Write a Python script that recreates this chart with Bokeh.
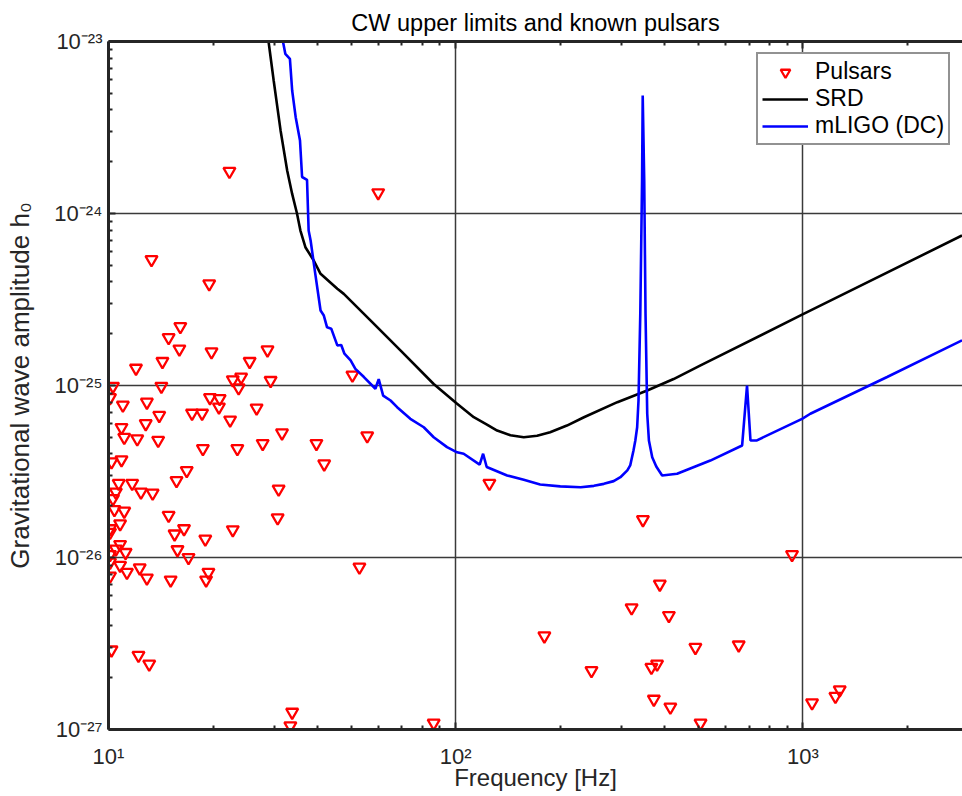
from bokeh.plotting import figure
from bokeh.models import (Range1d, LogAxis, FixedTicker, CustomJSTickFormatter,
                          Legend, LegendItem)
from bokeh.embed import file_html
from bokeh.resources import INLINE

# ---------------- data ----------------
pulsar_freq = [22.3, 59.8, 13.3, 19.5, 16.1, 14.9, 16.0, 19.8, 28.7, 25.5,
               14.3, 12.0, 50.4, 10.3, 14.2, 22.8, 24.1, 23.7, 29.3, 10.1,
               11.0, 12.9, 19.6, 20.9, 20.8, 26.7, 14.0, 17.4, 18.6, 22.4,
               10.9, 12.8, 11.1, 12.1, 13.9, 31.6, 55.6, 18.7, 23.5, 27.8,
               39.7, 10.2, 10.9, 41.8, 16.8, 15.7, 10.7, 11.7, 12.4, 13.4,
               30.9, 10.5, 10.3, 10.4, 11.1, 14.9, 30.7, 10.8, 10.1, 16.5,
               15.5, 22.8, 19.0, 10.1, 10.8, 10.5, 11.2, 10.1, 15.8, 17.0,
               10.1, 10.8, 12.3, 11.3, 12.9, 10.1, 15.1, 19.4, 19.1, 52.8,
               10.2, 12.2, 13.1, 33.8, 33.4, 86.4, 125, 346, 930, 387,
               321, 411, 180, 490, 653, 246, 366, 380, 372, 415,
               507, 1062, 1240, 1276]
pulsar_h0 = [1.76e-24, 1.32e-24, 5.4e-25, 3.9e-25, 2.2e-25, 1.9e-25, 1.63e-25, 1.57e-25, 1.61e-25, 1.38e-25,
             1.38e-25, 1.26e-25, 1.15e-25, 9.9e-26, 9.9e-26, 1.08e-25, 1.12e-25, 9.7e-26, 1.07e-25, 8.5e-26,
             7.7e-26, 8.0e-26, 8.5e-26, 8.4e-26, 7.5e-26, 7.4e-26, 6.7e-26, 6.9e-26, 6.9e-26, 6.3e-26,
             5.7e-26, 6.0e-26, 5.0e-26, 4.9e-26, 4.8e-26, 5.3e-26, 5.1e-26, 4.3e-26, 4.3e-26, 4.6e-26,
             4.6e-26, 3.6e-26, 3.7e-26, 3.5e-26, 3.2e-26, 2.8e-26, 2.7e-26, 2.7e-26, 2.4e-26, 2.37e-26,
             2.5e-26, 2.4e-26, 2.2e-26, 1.9e-26, 1.86e-26, 1.76e-26, 1.7e-26, 1.57e-26, 1.47e-26, 1.47e-26,
             1.37e-26, 1.45e-26, 1.28e-26, 1.40e-26, 1.19e-26, 1.12e-26, 1.07e-26, 1.04e-26, 1.11e-26, 1.0e-26,
             9.4e-27, 9.0e-27, 8.7e-27, 8.2e-27, 7.6e-27, 7.8e-27, 7.4e-27, 8.2e-27, 7.4e-27, 8.8e-27,
             2.9e-27, 2.7e-27, 2.4e-27, 1.26e-27, 1.05e-27, 1.09e-27, 2.7e-26, 1.66e-26, 1.04e-26, 7.0e-27,
             5.1e-27, 4.6e-27, 3.5e-27, 3.0e-27, 3.1e-27, 2.2e-27, 2.3e-27, 2.4e-27, 1.5e-27, 1.35e-27,
             1.09e-27, 1.43e-27, 1.56e-27, 1.70e-27]

srd_freq = [28.9, 29.9, 31.3, 32.7, 33.8, 34.9, 35.7, 36.9, 39.0, 40.8,
            45.6, 47.6, 56.8, 69.3, 86.4, 100.9, 112.7, 123, 131.6, 143.7,
            157, 171.5, 187, 209, 234, 292, 356, 424, 507, 994, 2871]
srd_h0 = [1.0e-23, 5.93e-24, 3.04e-24, 1.78e-24, 1.30e-24, 1.0e-24, 7.96e-25, 6.37e-25, 5.33e-25, 4.46e-25,
          3.65e-25, 3.41e-25, 2.39e-25, 1.60e-25, 1.02e-25, 7.83e-26, 6.54e-26, 5.93e-26, 5.47e-26, 5.14e-26,
          5.00e-26, 5.10e-26, 5.35e-26, 5.85e-26, 6.54e-26, 8.0e-26, 9.35e-26, 1.09e-25, 1.31e-25, 2.58e-25, 7.45e-25]

mligo_freq = [31.8, 32.3, 33.3, 33.8, 34.6, 35.6, 36.1, 37.3, 37.7, 38.2,
              39.4, 40.8, 41.7, 42.6, 43.8, 45.6, 46.8, 47.8, 49.8, 51.4,
              54.4, 58.7, 60.0, 61.8, 64.9, 67.8, 74.0, 80.9, 86.4, 94.4,
              100.9, 105.4, 117.2, 119.9, 122.8, 140.6, 157, 175, 200, 229,
              250, 267, 285, 298, 312, 318, 325, 329, 333, 336,
              340, 344, 345.5, 349, 352, 356, 360, 368, 378, 393,
              434, 541, 668, 690, 706, 737, 994, 1050, 1747, 2871]
mligo_h0 = [1.0e-23, 8.48e-24, 7.93e-24, 5.19e-24, 3.63e-24, 2.66e-24, 1.63e-24, 1.57e-24, 7.96e-25, 6.97e-25,
            4.46e-25, 2.73e-25, 2.55e-25, 2.18e-25, 2.14e-25, 1.71e-25, 1.72e-25, 1.53e-25, 1.40e-25, 1.25e-25,
            1.12e-25, 9.57e-26, 1.09e-25, 8.74e-26, 8.18e-26, 7.48e-26, 6.40e-26, 5.72e-26, 5.0e-26, 4.38e-26,
            4.09e-26, 4.01e-26, 3.47e-26, 4.01e-26, 3.36e-26, 3.0e-26, 2.83e-26, 2.66e-26, 2.59e-26, 2.56e-26,
            2.61e-26, 2.68e-26, 2.78e-26, 2.93e-26, 3.21e-26, 3.43e-26, 4.19e-26, 4.79e-26, 5.72e-26, 8.18e-26,
            2.61e-25, 1.55e-24, 4.85e-24, 1.55e-24, 2.61e-25, 6.85e-26, 4.79e-26, 3.83e-26, 3.38e-26, 3.0e-26,
            3.07e-26, 3.66e-26, 4.48e-26, 1.0e-25, 4.79e-26, 4.8e-26, 6.40e-26, 6.85e-26, 1.12e-25, 1.83e-25]

x_major = [10, 100, 1000]
x_minor = [20, 30, 40, 50, 60, 70, 80, 90, 200, 300, 400, 500, 600, 700, 800, 900, 2000]
y_major = [1e-27, 1e-26, 1e-25, 1e-24, 1e-23]
y_minor = [m * d for d in [1e-27, 1e-26, 1e-25, 1e-24] for m in range(2, 10)]
x_limits = (10, 2880)
y_limits = (1e-27, 1e-23)

FONT = "Liberation Sans"
INK = "#262626"

p = figure(width=962, height=796, x_axis_type="log", y_axis_type="log",
           x_range=Range1d(*x_limits), y_range=Range1d(*y_limits),
           output_backend="svg", toolbar_location=None,
           min_border_left=108, min_border_right=0, min_border_top=41, min_border_bottom=67,
           title="CW upper limits and known pulsars")
p.title.align = "center"
p.title.text_font = FONT
p.title.text_font_size = "23.5px"
p.title.text_font_style = "normal"
p.title.text_color = "black"
p.title.standoff = 12
p.title.offset = 4
p.outline_line_color = None
p.background_fill_color = "white"
p.border_fill_color = "white"

sup_fmt = CustomJSTickFormatter(code="""
const sup = {'-': '\u207b', '0': '\u2070', '1': '\u00b9', '2': '\u00b2', '3': '\u00b3',
             '4': '\u2074', '5': '\u2075', '6': '\u2076', '7': '\u2077', '8': '\u2078', '9': '\u2079'};
const e = Math.round(Math.log10(tick));
return '10' + String(e).split('').map(c => sup[c]).join('');
""")

xt = FixedTicker(ticks=x_major, minor_ticks=x_minor)
yt = FixedTicker(ticks=y_major, minor_ticks=y_minor)

def style_axis(ax):
    ax.axis_line_color = INK
    ax.axis_line_width = 3
    ax.major_tick_in = 7
    ax.major_tick_out = 0
    ax.minor_tick_in = 4
    ax.minor_tick_out = 0
    ax.major_tick_line_color = INK
    ax.minor_tick_line_color = INK
    ax.major_tick_line_width = 2
    ax.minor_tick_line_width = 2
    ax.major_label_text_font = FONT
    ax.major_label_text_font_size = "22px"
    ax.major_label_text_color = INK
    ax.axis_label_text_font = FONT
    ax.axis_label_text_font_size = "24px"
    ax.axis_label_text_font_style = "normal"
    ax.axis_label_text_color = INK

xa = p.xaxis[0]
ya = p.yaxis[0]
xa.ticker = xt
ya.ticker = yt
xa.formatter = sup_fmt
ya.formatter = sup_fmt
style_axis(xa)
style_axis(ya)
xa.axis_label = "Frequency [Hz]"
ya.axis_label = "Gravitational wave amplitude h\u2080"
ya.axis_label_text_font_size = "26px"
xa.major_label_standoff = 14
xa.axis_label_standoff = -8
ya.major_label_standoff = 6
ya.axis_label_standoff = 16

top = LogAxis(ticker=xt, formatter=CustomJSTickFormatter(code="return '';"))
style_axis(top)
top.major_label_text_font_size = "0px"
top.major_label_standoff = 0
p.add_layout(top, "above")

p.xgrid.ticker = xt
p.ygrid.ticker = yt
for g in (p.xgrid, p.ygrid):
    g.grid_line_color = "#3a3a3a"
    g.grid_line_width = 1.5
    g.grid_line_alpha = 1.0
    g.minor_grid_line_color = None

ps = p.scatter(pulsar_freq, pulsar_h0, marker="inverted_triangle", size=12,
               line_color="#ff0000", fill_color=None, line_width=2.3)
srd = p.line(srd_freq, srd_h0, line_color="black", line_width=2.6)
ml = p.line(mligo_freq, mligo_h0, line_color="#0000ff", line_width=2.6)

legend = Legend(items=[LegendItem(label="Pulsars", renderers=[ps]),
                       LegendItem(label="SRD", renderers=[srd]),
                       LegendItem(label="mLIGO (DC)", renderers=[ml])],
                location=(648, 584))
legend.label_text_font = FONT
legend.label_text_font_size = "23px"
legend.label_text_color = "black"
legend.border_line_color = INK
legend.border_line_width = 2.5
legend.background_fill_color = "white"
legend.background_fill_alpha = 1.0
legend.padding = 4
legend.spacing = 0
legend.glyph_width = 46
legend.glyph_height = 24
legend.label_height = 24
legend.label_standoff = 7
legend.margin = 0
p.add_layout(legend)

with open("out.html", "w", encoding="utf-8") as f:
    f.write(file_html(p, INLINE))
